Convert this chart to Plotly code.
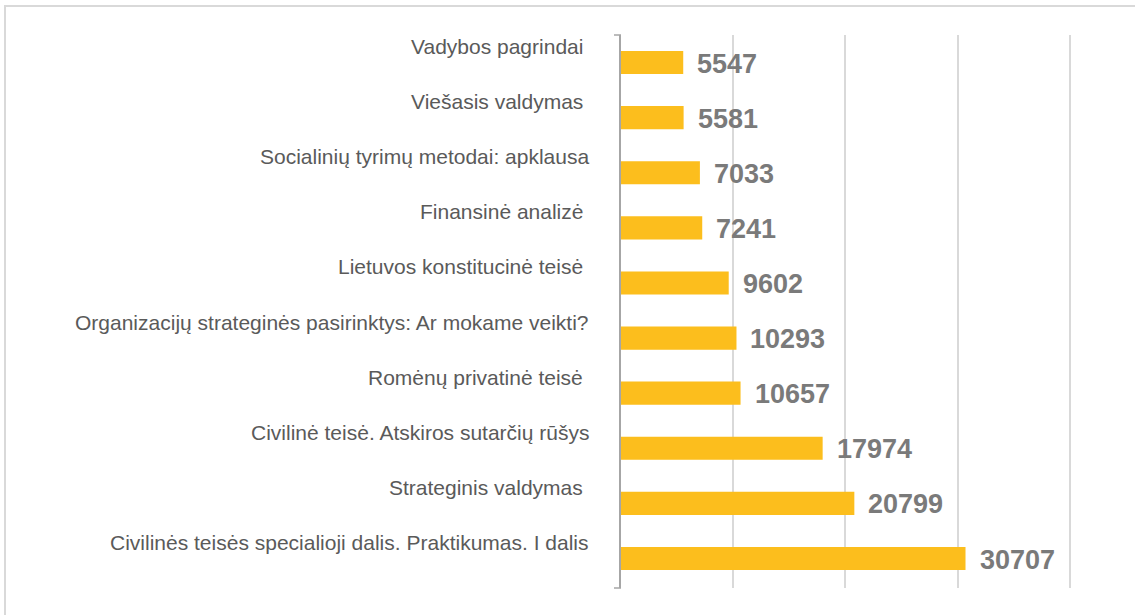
import plotly.graph_objects as go

categories = [
    "Vadybos pagrindai ",
    "Viešasis valdymas ",
    "Socialinių tyrimų metodai: apklausa",
    "Finansinė analizė ",
    "Lietuvos konstitucinė teisė ",
    "Organizacijų strateginės pasirinktys: Ar mokame veikti?",
    "Romėnų privatinė teisė ",
    "Civilinė teisė. Atskiros sutarčių rūšys",
    "Strateginis valdymas ",
    "Civilinės teisės specialioji dalis. Praktikumas. I dalis",
]
values = [5547, 5581, 7033, 7241, 9602, 10293, 10657, 17974, 20799, 30707]
x_ticks = [0, 10000, 20000, 30000, 40000]

fig = go.Figure()
fig.add_trace(go.Bar(
    y=categories, x=values, orientation="h",
    marker=dict(color="#FCBE1D", line=dict(width=0)),
    width=0.42, hoverinfo="x+y",
))

annotations = []
for c, v in zip(categories, values):
    annotations.append(dict(
        x=v, y=c, xref="x", yref="y", text=f"<b>{v}</b>", showarrow=False,
        xanchor="left", yanchor="middle", xshift=12, yshift=-1,
        font=dict(family="Liberation Sans, Arial", size=27, color="#7A7A7A"),
    ))
    annotations.append(dict(
        x=0, y=c, xref="x", yref="y", text=c.replace(" ", "\u00a0") if c.endswith(" ") else c,
        showarrow=False, xanchor="right", yanchor="middle", xshift=-30, yshift=16,
        font=dict(family="Liberation Sans, Arial", size=21, color="#5A5A5A"),
    ))

L, R, T, B = 621, 63, 35, 27
W, H = 1135, 615
pw, ph = W - L - R, H - T - B

def px(p):
    return (p - L) / pw

def py(p):
    return (H - B - p) / ph

shapes = [
    dict(type="rect", xref="paper", yref="paper", x0=px(5), x1=px(1145), y0=py(625), y1=py(6),
         line=dict(color="#D9D9D9", width=2), fillcolor="rgba(0,0,0,0)", layer="below"),
    dict(type="line", xref="paper", yref="paper", x0=px(614), x1=0, y0=1, y1=1,
         line=dict(color="#A6A6A6", width=1.5)),
    dict(type="line", xref="paper", yref="paper", x0=px(614), x1=0, y0=0, y1=0,
         line=dict(color="#A6A6A6", width=1.5)),
]

fig.update_layout(
    width=W, height=H,
    margin=dict(l=L, r=R, t=T, b=B),
    paper_bgcolor="white", plot_bgcolor="white",
    showlegend=False,
    annotations=annotations,
    shapes=shapes,
    xaxis=dict(range=[0, 40200], tickvals=x_ticks, showticklabels=False,
               showgrid=True, gridcolor="#D9D9D9", gridwidth=1.5,
               zeroline=False, showline=False, fixedrange=True),
    yaxis=dict(autorange="reversed", showticklabels=False, showgrid=False,
               showline=True, linecolor="#A6A6A6", linewidth=1.5, ticks="",
               zeroline=False, fixedrange=True),
)

fig.write_html(
    "out.html",
    config={"displayModeBar": False},
    post_script="document.body.style.margin='0';document.body.style.overflow='hidden';",
)
